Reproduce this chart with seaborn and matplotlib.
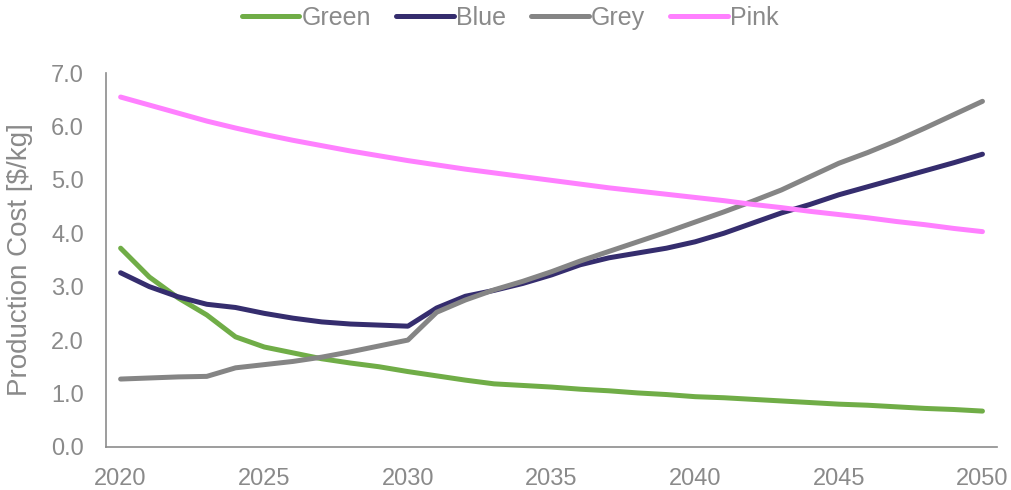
import numpy as np
import pandas as pd
import matplotlib
matplotlib.use("Agg")
import matplotlib.pyplot as plt
import seaborn as sns

years = list(range(2020, 2051))
green = [3.72, 3.18, 2.79, 2.47, 2.06, 1.87, 1.76, 1.65, 1.57, 1.50, 1.41,
         1.33, 1.25, 1.18, 1.15, 1.12, 1.08, 1.05, 1.01, 0.98, 0.94,
         0.92, 0.89, 0.86, 0.83, 0.80, 0.78, 0.75, 0.72, 0.70, 0.67]
blue = [3.26, 3.00, 2.81, 2.67, 2.61, 2.50, 2.41, 2.34, 2.30, 2.28, 2.26,
        2.60, 2.82, 2.93, 3.06, 3.22, 3.41, 3.54, 3.63, 3.72, 3.84,
        4.00, 4.19, 4.38, 4.54, 4.72, 4.87, 5.02, 5.17, 5.32, 5.48]
grey = [1.27, 1.29, 1.31, 1.32, 1.48, 1.54, 1.60, 1.68, 1.78, 1.89, 2.00,
        2.52, 2.75, 2.94, 3.10, 3.28, 3.48, 3.66, 3.84, 4.02, 4.21,
        4.40, 4.60, 4.81, 5.06, 5.31, 5.51, 5.73, 5.97, 6.22, 6.47]
pink = [6.55, 6.40, 6.25, 6.10, 5.97, 5.85, 5.74, 5.64, 5.54, 5.45, 5.36,
        5.28, 5.20, 5.13, 5.06, 4.99, 4.92, 4.85, 4.79, 4.73, 4.67,
        4.61, 4.54, 4.48, 4.41, 4.35, 4.29, 4.22, 4.16, 4.09, 4.03]
series_names = ["Green", "Blue", "Grey", "Pink"]
colors = ["#70AD47", "#352D6E", "#858585", "#FF80FF"]
x_ticks = [2020, 2025, 2030, 2035, 2040, 2045, 2050]
y_ticks = [0, 1, 2, 3, 4, 5, 6, 7]
ylabel = "Production Cost [$/kg]"

df = pd.DataFrame({
    "Year": years * 4,
    "Cost": green + blue + grey + pink,
    "Series": sum([[n] * len(years) for n in series_names], []),
})

sns.set_theme(style="white")
plt.rcParams["font.family"] = ["Liberation Sans", "DejaVu Sans"]
text_color = "#8A8A8A"

fig = plt.figure(figsize=(10.12, 4.90), dpi=100)
ax = fig.add_axes([0.105, 0.088, 0.880, 0.763])

sns.lineplot(data=df, x="Year", y="Cost", hue="Series", hue_order=series_names,
             palette=colors, linewidth=3.6, ax=ax, legend=True)
for ln in ax.get_lines():
    ln.set_solid_capstyle("round")
    ln.set_solid_joinstyle("round")

ax.set_xlim(2019.5, 2050.5)
ax.set_ylim(0, 7)
ax.set_xticks(x_ticks)
ax.set_xticklabels([str(t) for t in x_ticks])
ax.set_yticks(y_ticks)
ax.set_yticklabels([f"{t:.1f}" for t in y_ticks])
ax.tick_params(axis="both", length=0, labelsize=17, colors=text_color)
ax.tick_params(axis="y", pad=16)
ax.tick_params(axis="x", pad=15)
ax.set_xlabel("")
ax.set_ylabel(ylabel, fontsize=20, color=text_color)
ax.yaxis.set_label_coords(-0.082, 0.5)

for s in ["top", "right"]:
    ax.spines[s].set_visible(False)
for s in ["left", "bottom"]:
    ax.spines[s].set_color("#8C8C8C")
    ax.spines[s].set_linewidth(1.2)

handles, labels = ax.get_legend_handles_labels()
ax.legend(handles, labels, loc="center", bbox_to_anchor=(0.4535, 1.147),
          ncol=4, frameon=False, fontsize=18, handlelength=2.3,
          handletextpad=0.1, columnspacing=1.0, labelcolor=text_color,
          borderpad=0.1)
for h in ax.get_legend().get_lines():
    h.set_linewidth(3.6)
    h.set_solid_capstyle("round")

fig.savefig("out.png", dpi=100)
